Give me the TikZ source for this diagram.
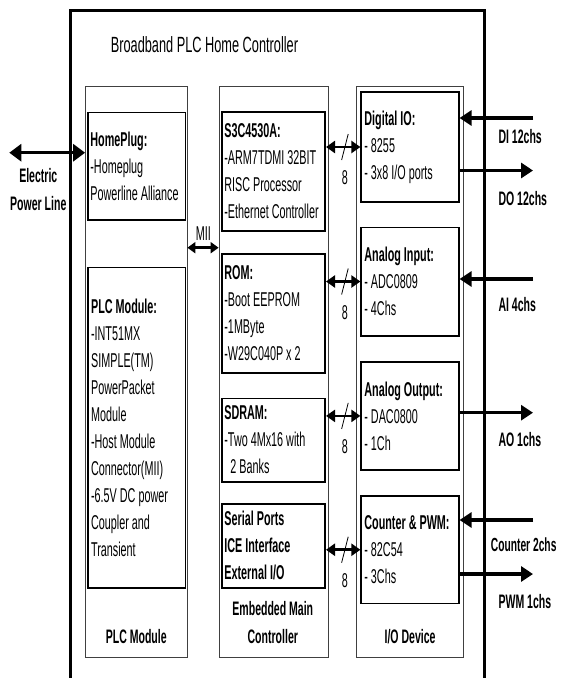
\documentclass[tikz,border=0pt]{standalone}
\usepackage{fontspec}
\setmainfont[FakeStretch=0.54]{Liberation Sans}
\newfontfamily\titlefont[FakeStretch=0.58]{Liberation Sans}
\usetikzlibrary{arrows.meta}

\begin{document}
\begin{tikzpicture}[x=1pt,y=-1pt,
    txt/.style={font=\fontsize{20}{27}\selectfont},
    lbl/.style={font=\bfseries\fontsize{19.5}{28}\selectfont},
    colbox/.style={draw=black!75,line width=0.8pt,minimum width=#1,minimum height=571.5pt,inner sep=0pt},
    unit/.style={draw,line width=1.6pt,minimum width=#1,inner sep=0pt},
    inside/.style={txt,anchor=west,align=left,inner sep=0pt},
    power/.style={line width=3pt,{Triangle[length=12pt,width=17pt]}-{Triangle[length=12pt,width=17pt]}},
    mii/.style={line width=2.6pt,{Triangle[length=8pt,width=11pt]}-{Triangle[length=8pt,width=11pt]}},
    bus/.style={line width=2.6pt,{Triangle[length=9pt,width=12pt]}-{Triangle[length=9pt,width=12pt]}},
    sig/.style={line width=3.2pt,-{Triangle[length=12pt,width=15pt]}}]

    \useasboundingbox (0,0) rectangle (561,678);

    % Outer frame, open at the bottom
    \draw[line width=2.2pt] (70.5,678) -- (70.5,10) -- (484.5,10) -- (484.5,678);
    \draw[line width=3pt] (69.4,10) -- (485.6,10);
    \node[anchor=base west,font=\titlefont\fontsize{22}{26}\selectfont] (title) at (107.3,52.7) {Broadband PLC Home Controller};

    % Three columns
    \node[colbox=101.5pt] (plccol) at (136.25,371.75) {};
    \node[colbox=109.3pt] (embcol) at (273.65,371.75) {};
    \node[colbox=106.8pt] (iocol) at (410.1,371.75) {};

    % PLC module column
    \node[unit=97.6pt,minimum height=107.7pt] (homeplug) at (136.5,166.2) {};
    \node[inside] (homeplug-t) at ([xshift=3.3pt]homeplug.west)
        {\textbf{HomePlug:}\\-Homeplug\\Powerline Alliance};
    \node[unit=97.8pt,minimum height=320.2pt] (plcmod) at (136.6,427.6) {};
    \node[inside] (plcmod-t) at ([xshift=4pt]plcmod.west)
        {\textbf{PLC Module:}\\-INT51MX\\SIMPLE(TM)\\PowerPacket\\Module\\-Host Module\\Connector(MII)\\-6.5V DC power\\Coupler and\\Transient};

    % Embedded main controller column
    \node[unit=103.5pt,minimum height=119pt] (s3c) at (273.45,171.3) {};
    \node[inside] (s3c-t) at ([xshift=3.3pt]s3c.west)
        {\textbf{S3C4530A:}\\-ARM7TDMI 32BIT\\RISC Processor\\-Ethernet Controller};
    \node[unit=103.5pt,minimum height=118.8pt] (rom) at (273.45,313.4) {};
    \node[inside] (rom-t) at ([xshift=3.3pt]rom.west)
        {\textbf{ROM:}\\-Boot EEPROM\\-1MByte\\-W29C040P x 2};
    \node[unit=103.5pt,minimum height=83.2pt] (sdram) at (273.45,440.1) {};
    \node[inside] (sdram-t) at ([xshift=3.3pt]sdram.west)
        {\textbf{SDRAM:}\\-Two 4Mx16 with\\\hspace*{6pt}2 Banks};
    \node[unit=103.5pt,minimum height=83.8pt] (serial) at (273.45,545.9) {};
    \node[inside] (serial-t) at ([xshift=3.3pt]serial.west)
        {\textbf{Serial Ports}\\\textbf{ICE Interface}\\\textbf{External I/O}};

    % I/O device column
    \node[unit=97.6pt,minimum height=110pt] (digio) at (410,147) {};
    \node[inside] (digio-t) at ([xshift=3.8pt]digio.west)
        {\textbf{Digital IO:}\\- 8255\\- 3x8 I/O ports};
    \node[unit=97.6pt,minimum height=108.4pt] (ain) at (410,281.5) {};
    \node[inside] (ain-t) at ([xshift=3.8pt]ain.west)
        {\textbf{Analog Input:}\\- ADC0809\\- 4Chs};
    \node[unit=97.6pt,minimum height=108.2pt] (aout) at (410,415.9) {};
    \node[inside] (aout-t) at ([xshift=3.8pt]aout.west)
        {\textbf{Analog Output:}\\- DAC0800\\- 1Ch};
    \node[unit=97.6pt,minimum height=107.5pt] (cnt) at (410,549.75) {};
    \node[inside] (cnt-t) at ([xshift=3.8pt]cnt.west)
        {\textbf{Counter \& PWM:}\\- 82C54\\- 3Chs};

    % Column titles
    \node[lbl,anchor=base] (plclbl) at (136.3,643.3) {PLC Module};
    \node[lbl,align=center] (emblbl) at (272.8,622.8) {Embedded Main\\Controller};
    \node[lbl,anchor=base] (iolbl) at (410.1,643.3) {I/O Device};

    % Power line and MII
    \coordinate (mains) at (9.3,152.7);
    \draw[power] (mains) -- (mains -| plccol.west);
    \node[lbl,align=center] (mainslbl) at (38.3,190) {Electric\\Power Line};
    \coordinate (miibus) at (203.3,247.7);
    \draw[mii] (miibus -| plccol.east) -- (miibus -| embcol.west);
    \node[txt,anchor=base] (miilbl) at (203.3,240) {MII};

    % 8 bit buses
    \foreach \src/\dst in {s3c/digio,rom/ain,sdram/aout,serial/cnt}{
        \draw[bus] (\dst.west -| \src.east) -- coordinate[pos=0.55] (\dst-mid) (\dst.west);
        \draw[line width=0.8pt] ([xshift=3.3pt,yshift=13pt]\dst-mid) -- ([xshift=-3.3pt,yshift=-13pt]\dst-mid);
        \node[txt] (\dst-bits) at ([yshift=-31pt]\dst-mid) {8};
    }

    % Field signals
    \coordinate (diin) at (533,118);
    \coordinate (doout) at (533,170.5);
    \coordinate (aiin) at (533,279);
    \coordinate (aoout) at (533,412.7);
    \coordinate (cntin) at (533,520);
    \coordinate (pwmout) at (533,574);
    \draw[sig] (diin) -- (diin -| digio.east);
    \draw[sig] (doout -| digio.east) -- (doout);
    \draw[sig] (aiin) -- (aiin -| ain.east);
    \draw[sig] (aoout -| aout.east) -- (aoout);
    \draw[sig] (cntin) -- (cntin -| cnt.east);
    \draw[sig] (pwmout -| cnt.east) -- (pwmout);
    \node[lbl,anchor=base west] (dilbl) at (495,143) {DI 12chs};
    \node[lbl,anchor=base west] (dolbl) at (495,205) {DO 12chs};
    \node[lbl,anchor=base west] (ailbl) at (495,311.7) {AI 4chs};
    \node[lbl,anchor=base west] (aolbl) at (495,446) {AO 1chs};
    \node[lbl,anchor=base east,font=\bfseries\fontsize{19}{28}\selectfont] (cntlbl) at (560,551.7) {Counter 2chs};
    \node[lbl,anchor=base west] (pwmlbl) at (495,608.3) {PWM 1chs};

\end{tikzpicture}
\end{document}
